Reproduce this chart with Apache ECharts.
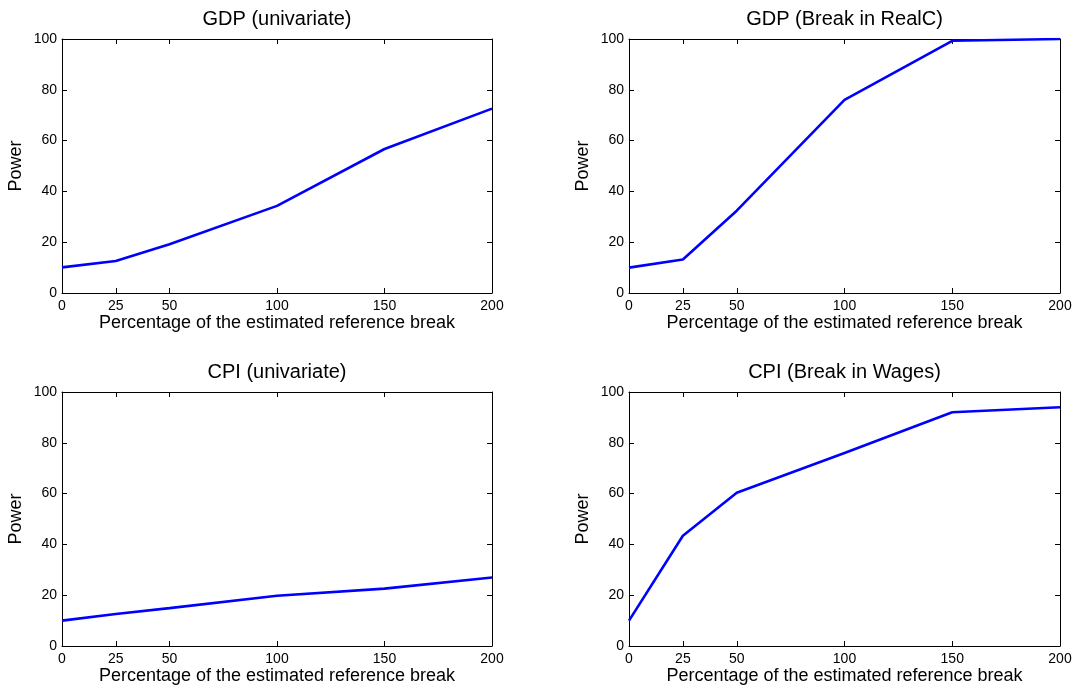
<!DOCTYPE html>
<html>
<head>
<meta charset="utf-8">
<script src="https://cdn.jsdelivr.net/npm/echarts@6/dist/echarts.min.js"></script>
<style>
html,body{margin:0;padding:0;background:#fff;}
#c{width:1075px;height:688px;}
</style>
</head>
<body>
<div id="c"></div>
<script>
var xValues = [0, 25, 50, 100, 150, 200];
var xTickLabels = [0, 25, 50, 100, 150, 200];
var yTickLabels = [0, 20, 40, 60, 80, 100];
var titles = ['GDP (univariate)', 'GDP (Break in RealC)', 'CPI (univariate)', 'CPI (Break in Wages)'];
var gdpUnivariate = [10.1, 12.6, 19.2, 34.3, 56.7, 72.6];
var gdpBreakRealC = [10.0, 13.2, 32.4, 76.0, 99.3, 100.0];
var cpiUnivariate = [10.0, 12.6, 14.9, 19.8, 22.6, 27.0];
var cpiBreakWages = [10.0, 43.4, 60.3, 76.0, 92.0, 94.0];
var xAxisName = 'Percentage of the estimated reference break';
var yAxisName = 'Power';

var seriesData = [gdpUnivariate, gdpBreakRealC, cpiUnivariate, cpiBreakWages];
var FONT = "'Liberation Sans', Arial, Helvetica, sans-serif";

var panels = [
  {left: 62, top: 39, width: 430, height: 254},
  {left: 629, top: 39, width: 431, height: 254},
  {left: 62, top: 392, width: 430, height: 254},
  {left: 629, top: 392, width: 431, height: 254}
];

var grid = [], xAxis = [], yAxis = [], series = [], title = [];
var lineBlack = {show: true, onZero: false, lineStyle: {color: '#000', width: 1}};
var tickIn = function (vals) {
  var t = {show: true, inside: true, length: 5, lineStyle: {color: '#000', width: 1}};
  if (vals) t.customValues = vals;
  return t;
};

panels.forEach(function (p, i) {
  grid.push({left: p.left, top: p.top, width: p.width, height: p.height, containLabel: false});
  title.push({
    text: titles[i], left: p.left + p.width / 2, top: i >= 2 ? 362 : 9, textAlign: 'center', padding: 0,
    textStyle: {fontFamily: FONT, fontSize: 20, fontWeight: 'normal', color: '#000'}
  });
  // bottom x axis
  xAxis.push({
    type: 'value', gridIndex: i, min: 0, max: 200, interval: 25, position: 'bottom',
    axisLine: lineBlack, axisTick: tickIn(xTickLabels), splitLine: {show: false},
    axisLabel: {customValues: xTickLabels, margin: 6, fontFamily: FONT, fontSize: 14, color: '#000'},
    name: xAxisName, nameLocation: 'middle', nameGap: 20,
    nameTextStyle: {fontFamily: FONT, fontSize: 18, color: '#000'}
  });
  // top x axis (ticks only)
  xAxis.push({
    type: 'value', gridIndex: i, min: 0, max: 200, interval: 25, position: 'top',
    axisLine: lineBlack, axisTick: tickIn(xTickLabels), splitLine: {show: false},
    axisLabel: {show: false}
  });
  // left y axis
  yAxis.push({
    type: 'value', gridIndex: i, min: 0, max: 100, interval: 20, position: 'left',
    axisLine: lineBlack, axisTick: tickIn(), splitLine: {show: false},
    axisLabel: {margin: 5, fontFamily: FONT, fontSize: 14, color: '#000',
      formatter: function (v) { return yTickLabels.indexOf(v) >= 0 ? String(v) : ''; }},
    name: yAxisName, nameLocation: 'middle', nameGap: 37,
    nameTextStyle: {fontFamily: FONT, fontSize: 18, color: '#000'}
  });
  // right y axis (ticks only)
  yAxis.push({
    type: 'value', gridIndex: i, min: 0, max: 100, interval: 20, position: 'right',
    axisLine: lineBlack, axisTick: tickIn(), splitLine: {show: false},
    axisLabel: {show: false}
  });
  series.push({
    type: 'line', xAxisIndex: i * 2, yAxisIndex: i * 2, symbol: 'none', smooth: false,
    lineStyle: {color: '#0000ff', width: 2.6},
    data: xValues.map(function (x, k) { return [x, seriesData[i][k]]; })
  });
});

var chart = echarts.init(document.getElementById('c'), null, {renderer: 'canvas'});
chart.setOption({
  animation: false,
  backgroundColor: '#fff',
  title: title, grid: grid, xAxis: xAxis, yAxis: yAxis, series: series
});
</script>
</body>
</html>
